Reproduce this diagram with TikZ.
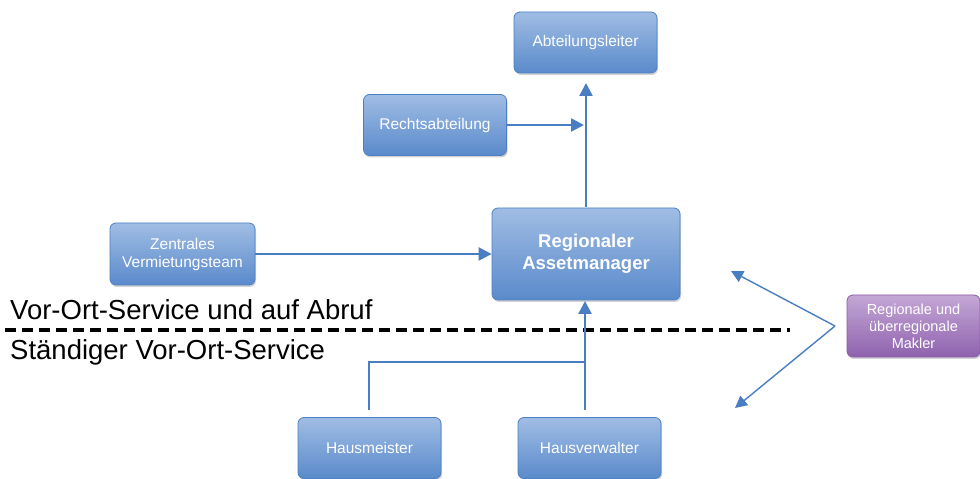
\documentclass[tikz,border=0pt]{standalone}
\usepackage{fontspec}
\setmainfont{Liberation Sans}
\usetikzlibrary{shadows,arrows.meta}
\definecolor{btop}{HTML}{A0BDE4}
\definecolor{bbot}{HTML}{5A8ACB}
\definecolor{bline}{HTML}{4C80C4}
\definecolor{ptop}{HTML}{C5A7D6}
\definecolor{pbot}{HTML}{8E62AE}
\definecolor{pline}{HTML}{8A5BA8}
\definecolor{conn}{HTML}{4A7EC2}
\tikzset{
  x=1pt,y=1pt,
  bluebox/.style={draw=bline, line width=0.8pt, rounded corners=6pt, top color=btop, bottom color=bbot,
    text=white, font=\fontsize{15.5}{18}\selectfont, align=center, minimum width=143pt, minimum height=61pt,
    drop shadow={shadow xshift=1pt, shadow yshift=-2pt, opacity=0.35}},
  purplebox/.style={draw=pline, line width=0.8pt, rounded corners=6pt, top color=ptop, bottom color=pbot,
    text=white, font=\fontsize{14.5}{17}\selectfont, align=center, minimum width=133pt, minimum height=62pt,
    inner sep=1pt, drop shadow={shadow xshift=1pt, shadow yshift=-2pt, opacity=0.35}},
  conn/.style={draw=conn, line width=2.4pt},
  tip/.style={-{Triangle[length=13pt,width=13pt]}},
  thinconn/.style={draw=conn, line width=1.4pt, -{Triangle[length=12pt,width=12pt]}},
  lbl/.style={font=\fontsize{27.5}{30}\selectfont, anchor=west, inner sep=0pt}
}
\begin{document}
\begin{tikzpicture}
\useasboundingbox (0,0) rectangle (980,479);
% nodes (y = 479 - pixel y)
\node[bluebox] (abt) at (585.5,436.5) {Abteilungsleiter};
\node[bluebox] (recht) at (435,354) {Rechtsabteilung};
\node[bluebox, minimum width=188pt, minimum height=92pt, font=\fontsize{18.5}{22}\selectfont\bfseries] (ram) at (586,225) {Regionaler\\Assetmanager};
\node[bluebox, minimum width=145pt, minimum height=62pt] (zvt) at (182.5,225) {Zentrales\\Vermietungsteam};
\node[bluebox] (hm) at (369.5,31) {Hausmeister};
\node[bluebox] (hv) at (589.5,31) {Hausverwalter};
\node[purplebox] (mak) at (913.5,153) {Regionale und\\überregionale\\Makler};
% labels
\node[lbl, anchor=base west] (t1) at (10,159) {Vor-Ort-Service und auf Abruf};
\node[lbl, anchor=base west] (t2) at (10,119) {Ständiger Vor-Ort-Service};
\coordinate (dl) at (5,149);
\coordinate (dr) at (790,149);
\draw[black, line width=4.5pt, dash pattern=on 11pt off 6pt] (dl) -- (dr);
% connectors
\coordinate (ramtop) at (586,272);
\coordinate (abtbot) at (586,396);
\draw[conn, tip] (ramtop) -- (abtbot);
\coordinate (rjoin) at (584,354);
\draw[conn, tip] (recht.east) -- (rjoin);
\draw[conn, tip] (zvt.east) -- (ram.west);
\coordinate (hvtop) at (585,69);
\coordinate (rambot) at (585,178);
\coordinate (hmtop) at (369,69);
\coordinate (hmc) at (369,117);
\coordinate (hvc) at (585,117);
\draw[conn, tip] (hvtop) -- (rambot);
\draw[conn] (hmtop) -- (hmc) -- (hvc);
\coordinate (mk) at (835,153);
\coordinate (a1) at (731,208);
\coordinate (a2) at (735,71);
\draw[thinconn] (mk) -- (a1);
\draw[thinconn] (mk) -- (a2);
\end{tikzpicture}
\end{document}
